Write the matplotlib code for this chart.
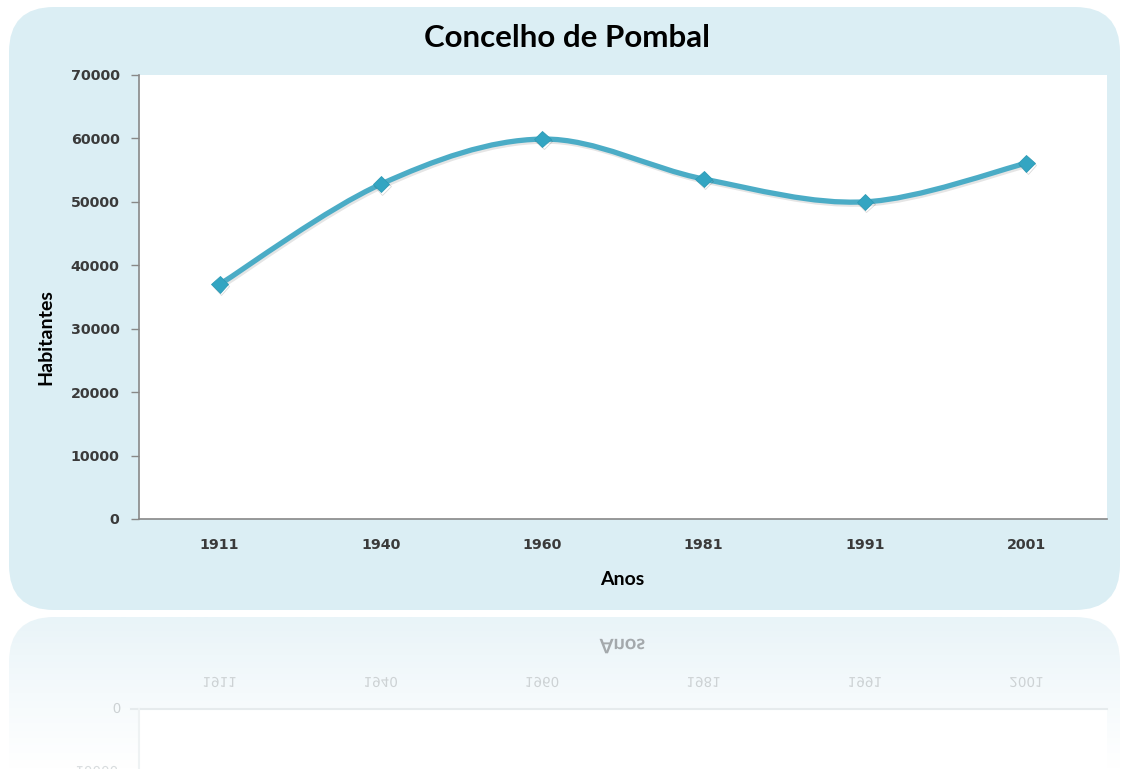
import numpy as np
import matplotlib
matplotlib.use("Agg")
import matplotlib.pyplot as plt
from matplotlib.patches import FancyBboxPatch, PathPatch, Rectangle
from matplotlib.path import Path
from matplotlib.textpath import TextPath
from matplotlib.font_manager import FontProperties
from matplotlib.transforms import Affine2D
import matplotlib.patheffects as pe

# data
anos = ["1911", "1940", "1960", "1981", "1991", "2001"]
habitantes = [37000, 52800, 59900, 53600, 50000, 56100]
y_ticks = [0, 10000, 20000, 30000, 40000, 50000, 60000, 70000]

W, H = 1122, 769
panel_col = "#DBEEF4"
line_col = "#4BACC6"
tick_font = "DejaVu Sans"
label_font = "Lato"

fig = plt.figure(figsize=(W / 100, H / 100), dpi=100)
fig.patch.set_facecolor("white")

# background canvas in pixel coords (y down)
bg = fig.add_axes([0, 0, 1, 1])
bg.set_xlim(0, W)
bg.set_ylim(H, 0)
bg.axis("off")

panel = FancyBboxPatch((9, 7), 1111, 603, boxstyle="round,pad=0,rounding_size=45",
                       fc=panel_col, ec="none")
bg.add_patch(panel)

# reflection panel, fading out
refl = FancyBboxPatch((9, 617), 1111, 200, boxstyle="round,pad=0,rounding_size=45",
                      fc="none", ec="none")
bg.add_patch(refl)
grad = np.linspace(0, 1, 100).reshape(-1, 1)
cmap = matplotlib.colors.LinearSegmentedColormap.from_list("fade", ["#E9F4F8", "#F5FAFC", "#FFFFFF"])
im = bg.imshow(grad, extent=(9, 1120, 769, 617), cmap=cmap, aspect="auto", zorder=1)
im.set_clip_path(refl)
bg.add_patch(Rectangle((139, 710), 968, 70, fc="white", ec="none", zorder=2))
bg.plot([131, 1107], [709, 709], color="#E6EBED", lw=1.5, zorder=3)
bg.plot([139, 139], [709, 769], color="#EEF2F3", lw=1.5, zorder=3)


def mirror_text(s, x, y, size, color, family, weight="normal"):
    # glyphs drawn with y up on a y-down canvas come out flipped
    tp = TextPath((0, 0), s, size=size, prop=FontProperties(family=family, weight=weight))
    ext = tp.get_extents()
    tr = Affine2D().translate(-(ext.x0 + ext.x1) / 2, -(ext.y0 + ext.y1) / 2).translate(x, y)
    bg.add_patch(PathPatch(tr.transform_path(tp), fc=color, ec="none", zorder=4))


x_pix = [139 + 968 / 6 * (i + 0.5) for i in range(len(anos))]
mirror_text("Anos", 622, 646, 20, "#A4A9AC", label_font, "bold")
for xp, a in zip(x_pix, anos):
    mirror_text(a, xp, 682, 13.5, "#CDD2D4", tick_font)
mirror_text("0", 117, 708, 13.5, "#CDD2D4", tick_font)
mirror_text("10000", 97, 771, 13.5, "#D8DCDE", tick_font)

# main plot area
ax = fig.add_axes([139 / W, (H - 519) / H, 968 / W, 444 / H])
ax.set_facecolor("white")
ax.set_xlim(-0.5, len(anos) - 0.5)
ax.set_ylim(0, 70000)
ax.set_yticks(y_ticks)
ax.set_yticklabels([str(v) for v in y_ticks], fontsize=10.3, family=tick_font,
                   weight="bold", color="#3A3A3A")
ax.set_xticks(range(len(anos)))
ax.set_xticklabels(anos, fontsize=10.3, family=tick_font, weight="bold", color="#3A3A3A")
ax.tick_params(axis="x", length=0, pad=14)
ax.tick_params(axis="y", length=6, width=1, color="#888888", pad=8)
for s in ["top", "right"]:
    ax.spines[s].set_visible(False)
for s in ["left", "bottom"]:
    ax.spines[s].set_color("#888888")
    ax.spines[s].set_linewidth(1.2)

# smoothed line, excel style bezier
xs = np.arange(len(anos), dtype=float)
pts = np.column_stack([xs, habitantes]).astype(float)
verts = [pts[0]]
codes = [Path.MOVETO]
n = len(pts)
for i in range(n - 1):
    p0 = pts[i - 1] if i > 0 else pts[i]
    p3 = pts[i + 2] if i + 2 < n else pts[i + 1]
    c1 = pts[i] + (pts[i + 1] - p0) / 6
    c2 = pts[i + 1] - (p3 - pts[i]) / 6
    verts += [c1, c2, pts[i + 1]]
    codes += [Path.CURVE4] * 3
curve = PathPatch(Path(verts, codes), fc="none", ec=line_col, lw=3.8, capstyle="round",
                  path_effects=[pe.SimpleLineShadow(offset=(1, -1.5), alpha=0.1), pe.Normal()])
ax.add_patch(curve)
ax.plot(xs, habitantes, ls="none", marker="D", ms=8.5, color="#33A5C2", mec="#2F9BB6", mew=0.6,
        path_effects=[pe.SimpleLineShadow(offset=(1, -1.5), alpha=0.15), pe.Normal()], zorder=5)

ax.set_xlabel("Anos", fontsize=14, family=label_font, weight="bold")
ax.xaxis.set_label_coords((622 - 139) / 968, -(571 - 519) / 444)
ax.set_ylabel("Habitantes", fontsize=14, family=label_font, weight="bold")
ax.yaxis.set_label_coords((54 - 139) / 968, (519 - 337) / 444)
fig.text(567 / W, 1 - 38 / H, "Concelho de Pombal", ha="center", va="center",
         fontsize=22.5, family=label_font, weight="bold", color="black")

fig.savefig("out.png", dpi=100)
